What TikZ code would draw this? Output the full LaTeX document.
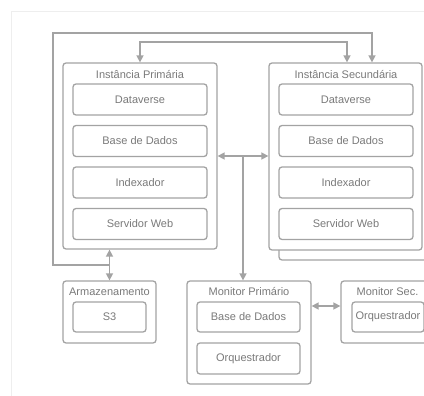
\documentclass[tikz,border=0pt]{standalone}
\usepackage{fontspec}
\setmainfont{Liberation Sans}
\usetikzlibrary{arrows.meta}
\definecolor{ln}{HTML}{A3A3A3}
\definecolor{tx}{HTML}{7A7A7A}
\definecolor{fr}{HTML}{EEEEEE}
\tikzset{
  box/.style={draw=ln, line width=1.3pt, rounded corners=3pt, fill=white, inner sep=0pt},
  lbl/.style={text=tx, font=\fontsize{11}{13}\selectfont, inner sep=0pt},
  conn/.style={draw=ln, line width=1.5pt, -{Triangle[length=7pt,width=7pt]}},
  dconn/.style={draw=ln, line width=1.5pt, {Triangle[length=7pt,width=7pt]}-{Triangle[length=7pt,width=7pt]}},
}
\begin{document}
\begin{tikzpicture}[x=1pt,y=-1pt]
\useasboundingbox (0,0) rectangle (424,396);
\clip (0,0) rectangle (424,396);
\fill[white] (0,0) rectangle (424,396);
% faint page frame
\draw[fr, line width=0.8pt] (11.5,396) -- (11.5,11) -- (424,11);

% shadow of secondary
\begin{scope}
\clip (270,76) rectangle (424,270);
\node[box, minimum width=162pt, minimum height=187pt] (shadow) at (360,166.5) {};
\end{scope}
% Instancia Primaria
\node[box, minimum width=154pt, minimum height=186pt] (prim) at (140,156) {};
\node[lbl] (primt) at (140,75) {Instância Primária};
\node[box, minimum width=134pt, minimum height=31pt, lbl] (p1) at (140,99.5) {Dataverse};
\node[box, minimum width=134pt, minimum height=31pt, lbl] (p2) at (140,141) {Base de Dados};
\node[box, minimum width=134pt, minimum height=31pt, lbl] (p3) at (140,182.5) {Indexador};
\node[box, minimum width=134pt, minimum height=31pt, lbl] (p4) at (140,224) {Servidor Web};
% Instancia Secundaria
\node[box, minimum width=153pt, minimum height=187pt] (sec) at (345.5,156.5) {};
\node[lbl] (sect) at (346,75) {Instância Secundária};
\node[box, minimum width=134pt, minimum height=31pt, lbl] (s1) at (346,99.5) {Dataverse};
\node[box, minimum width=134pt, minimum height=31pt, lbl] (s2) at (346,141) {Base de Dados};
\node[box, minimum width=134pt, minimum height=31pt, lbl] (s3) at (346,182.5) {Indexador};
\node[box, minimum width=134pt, minimum height=31pt, lbl] (s4) at (346,224) {Servidor Web};
% Armazenamento
\node[box, minimum width=93pt, minimum height=62pt] (arm) at (109.5,312) {};
\node[lbl] (armt) at (109.5,292) {Armazenamento};
\node[box, minimum width=73pt, minimum height=30pt, lbl] (s3b) at (109.5,317) {S3};
% Monitor Primario
\node[box, minimum width=124pt, minimum height=103pt] (mp) at (249,332.5) {};
\node[lbl] (mpt) at (249,292) {Monitor Primário};
\node[box, minimum width=103pt, minimum height=30pt, lbl] (mp1) at (248.5,317) {Base de Dados};
\node[box, minimum width=103pt, minimum height=31pt, lbl] (mp2) at (248.5,358.5) {Orquestrador};
% Monitor Sec
\node[box, minimum width=93pt, minimum height=62pt] (ms) at (387.5,312) {};
\node[lbl] (mst) at (387.5,292) {Monitor Sec.};
\node[box, minimum width=72pt, minimum height=30pt, lbl] (ms1) at (388,317) {Orquestrador};

% connectors
\coordinate (armjoin) at (109.5,265);
\draw[dconn] (prim.south -| armjoin) -- (arm.north);
\draw[conn] (armjoin) -- (53,265) -- (53,33) -- (372,33) -- (372,0 |- sec.north);
\draw[dconn] (140,0 |- prim.north) -- (140,42) -- (347,42) -- (347,0 |- sec.north);
\draw[dconn] (prim.east |- 0,156) -- (sec.west |- 0,156);
\coordinate (mid) at (243,156);
\draw[conn] (mid) -- (mid |- mp.north);
\draw[dconn] (mp.east |- 0,306) -- (ms.west |- 0,306);
\end{tikzpicture}
\end{document}
